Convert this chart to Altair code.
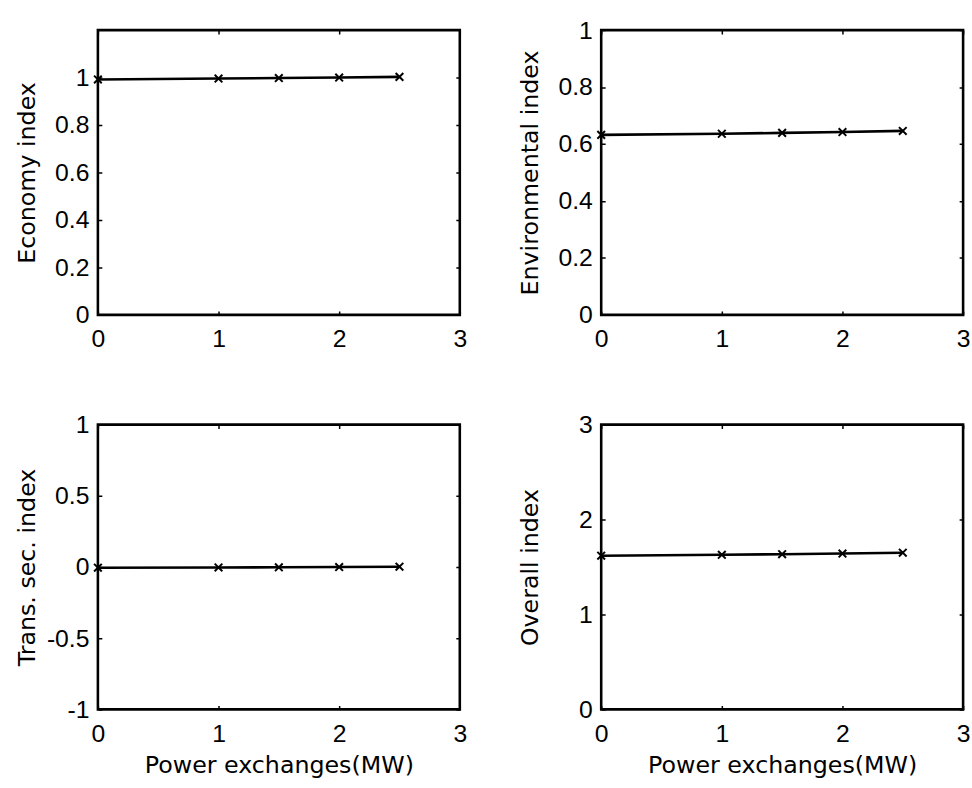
import altair as alt
import pandas as pd

# ---- data ----
power = [0, 1, 1.5, 2, 2.5]
economy = [0.992, 0.996, 0.998, 1.000, 1.003]
environmental = [0.632, 0.636, 0.639, 0.642, 0.646]
trans_sec = [-0.005, -0.003, -0.002, 0.0, 0.002]
overall = [1.619, 1.629, 1.635, 1.642, 1.651]

x_ticks = [0, 1, 2, 3]
econ_ticks = [0, 0.2, 0.4, 0.6, 0.8, 1]
env_ticks = [0, 0.2, 0.4, 0.6, 0.8, 1]
trans_ticks = [-1, -0.5, 0, 0.5, 1]
overall_ticks = [0, 1, 2, 3]

x_title = "Power exchanges(MW)"

W, H = 366, 288
X_SHAPE = "M-1,-1L1,1M-1,1L1,-1"
LABEL_FONT = "Liberation Sans"
TITLE_FONT = "DejaVu Sans"


def panel(values, ytitle, domain, yticks, show_xtitle):
    df = pd.DataFrame({"x": power, "y": values})
    xkw = dict(
        values=x_ticks,
        labelExpr="toString(datum.value)",
        labelFlush=False,
        labelPadding=12,
        titlePadding=8,
        gridDash=[4, H - 8, 4, 3000],
    )
    if show_xtitle:
        xkw["title"] = x_title
    else:
        xkw["title"] = None
    xenc = alt.X("x:Q", scale=alt.Scale(domain=[0, 3], nice=False), axis=alt.Axis(**xkw))
    yenc = alt.Y(
        "y:Q",
        scale=alt.Scale(domain=domain, nice=False, zero=False),
        axis=alt.Axis(
            values=yticks,
            title=ytitle,
            labelExpr="toString(datum.value)",
            labelPadding=9,
            minExtent=44,
            maxExtent=44,
            titlePadding=15,
            gridDash=[4, W - 8, 4, 3000],
        ),
    )
    base = alt.Chart(df).encode(x=xenc, y=yenc)
    line = base.mark_line(color="black", strokeWidth=2.6)
    pts = base.mark_point(shape=X_SHAPE, size=60, filled=False, color="black", strokeWidth=2, opacity=1)
    return alt.layer(line, pts).properties(width=W, height=H)


p1 = panel(economy, "Economy index", [0, 1.2], econ_ticks, False)
p2 = panel(environmental, "Environmental index", [0, 1], env_ticks, False)
p3 = panel(trans_sec, "Trans. sec. index", [-1, 1], trans_ticks, True)
p4 = panel(overall, "Overall index", [0, 3], overall_ticks, True)

chart = (
    alt.concat(p1, p2, p3, p4, columns=2, spacing={"row": 58, "column": 49})
    .properties(padding={"left": 14, "top": 12, "right": 0, "bottom": 0}, background="white")
    .configure_view(stroke="black", strokeWidth=2.6)
    .configure_axis(
        domain=False,
        ticks=False,
        grid=True,
        gridColor="black",
        gridWidth=1.5,
        gridOpacity=1,
        labelFont=LABEL_FONT,
        labelFontSize=25,
        labelColor="black",
        titleFont=TITLE_FONT,
        titleFontSize=24,
        titleFontWeight="normal",
        titleColor="black",
    )
)

chart.save("out.html", embed_options={"renderer": "svg", "actions": False})
